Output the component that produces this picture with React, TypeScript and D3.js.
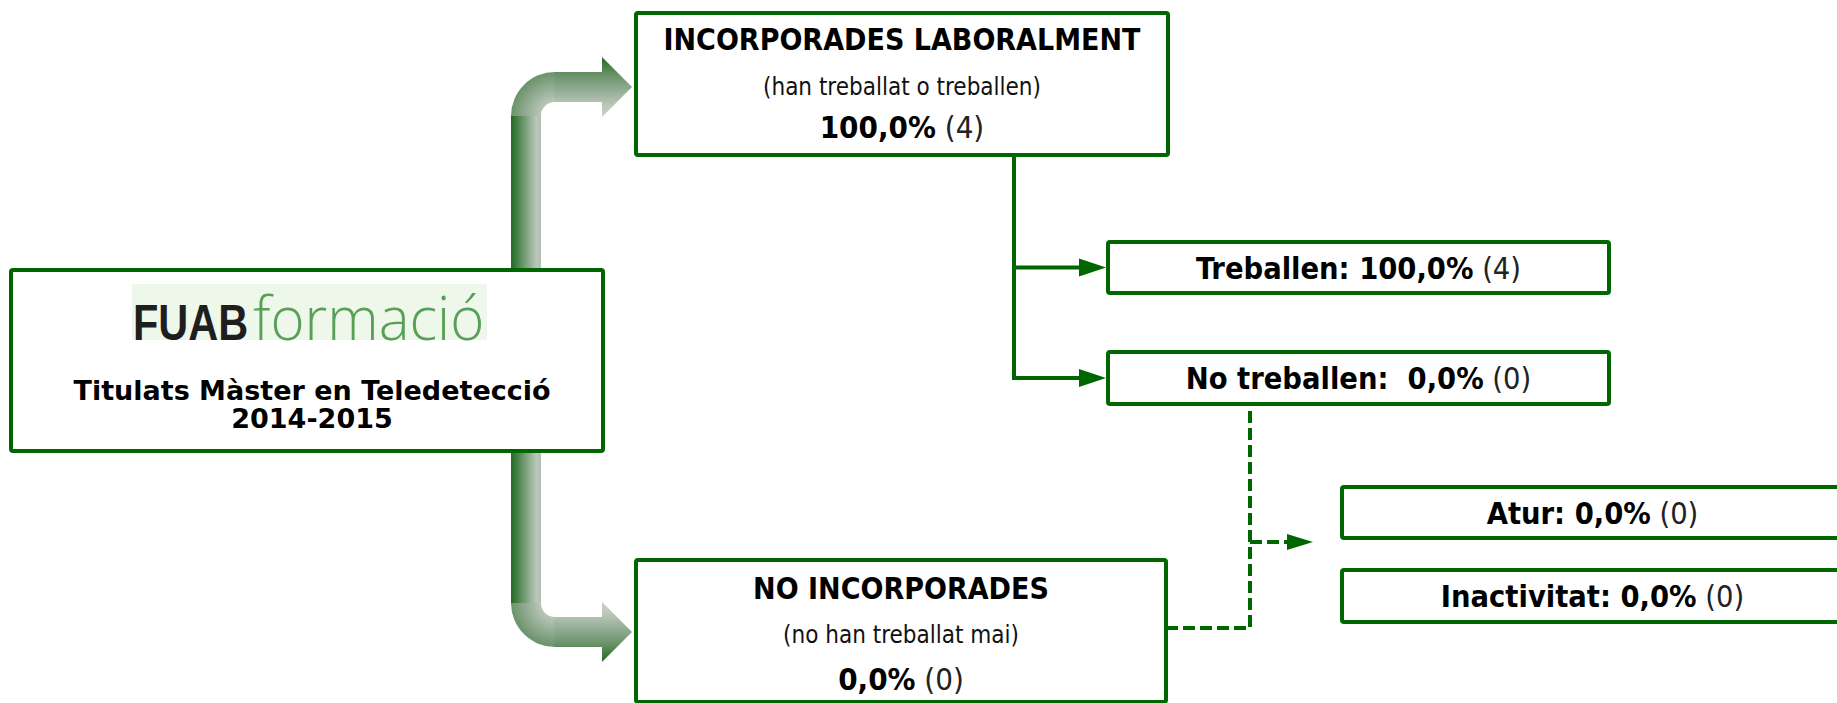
import React from "react";
import * as d3 from "d3";

// valors del diagrama
const nodeIds = ["incorporades", "noIncorporades", "treballen", "noTreballen", "atur", "inactivitat"];
const nodeLabels = ["INCORPORADES LABORALMENT", "NO INCORPORADES", "Treballen: ", "No treballen:  ", "Atur: ", "Inactivitat: "];
const nodePct = [100, 0, 100, 0, 0, 0];
const nodeCount = [4, 0, 4, 0, 0, 0];
const subLabels = ["(han treballat o treballen)", "(no han treballat mai)"];
const titleLines = ["Titulats Màster en Teledetecció", "2014-2015"];
const logoParts = ["FUAB", "formació"];

const W = 1837;
const H = 703;
const GREEN = "#006600";
const COND = "'DejaVu Sans Condensed', 'DejaVu Sans', sans-serif";

const caLocale = d3.formatLocale({ decimal: ",", thousands: ".", grouping: [3], currency: ["", "€"] });
const fmtPct = (v: number) => caLocale.format(".1f")(v) + "%";

// caixes: x, y, amplada, alçada
const boxes: Record<string, { x: number; y: number; w: number; h: number }> = {
  main: { x: 11, y: 270, w: 592, h: 181 },
  incorporades: { x: 636, y: 13, w: 532, h: 142 },
  noIncorporades: { x: 636, y: 560, w: 530, h: 142 },
  treballen: { x: 1108, y: 242, w: 501, h: 51 },
  noTreballen: { x: 1108, y: 352, w: 501, h: 52 },
  atur: { x: 1342, y: 487, w: 501, h: 51 },
  inactivitat: { x: 1342, y: 570, w: 501, h: 52 },
};

const line = d3.line<[number, number]>();

function arrowHead(tipX: number, y: number, len: number, half: number) {
  return line([[tipX - len, y - half], [tipX, y], [tipX - len, y + half]]) + "Z";
}

function BigArrows() {
  const x0 = 511, x1 = 541, R = 44, r = 14;
  const topY0 = 72, topY1 = 102;
  const botY0 = 617, botY1 = 647;
  const headX = 602, tipX = 632;
  const cTop: [number, number] = [x0 + R, topY0 + R];
  const cBot: [number, number] = [x0 + R, botY1 - R];

  const pTop = d3.path();
  pTop.moveTo(x0, cTop[1]);
  pTop.arc(cTop[0], cTop[1], R, Math.PI, 1.5 * Math.PI);
  pTop.lineTo(cTop[0], topY1);
  pTop.arc(cTop[0], cTop[1], r, 1.5 * Math.PI, Math.PI, true);
  pTop.closePath();

  const pBot = d3.path();
  pBot.moveTo(x0, cBot[1]);
  pBot.arc(cBot[0], cBot[1], R, Math.PI, 0.5 * Math.PI, true);
  pBot.lineTo(cBot[0], botY0);
  pBot.arc(cBot[0], cBot[1], r, 0.5 * Math.PI, Math.PI);
  pBot.closePath();

  const dark = "#226a22";
  const mid = "#6a926a";
  const light = "#bac7ba";

  return (
    <g>
      <defs>
        <linearGradient id="gShaft" gradientUnits="userSpaceOnUse" x1={x0} y1={0} x2={x1} y2={0}>
          <stop offset="0" stopColor={dark} />
          <stop offset="0.85" stopColor={light} />
          <stop offset="1" stopColor="#b0bfb0" />
        </linearGradient>
        <radialGradient id="gCornerTop" gradientUnits="userSpaceOnUse" cx={cTop[0]} cy={cTop[1]} r={R}>
          <stop offset={r / R} stopColor={light} />
          <stop offset="1" stopColor={mid} />
        </radialGradient>
        <radialGradient id="gCornerBot" gradientUnits="userSpaceOnUse" cx={cBot[0]} cy={cBot[1]} r={R}>
          <stop offset={r / R} stopColor={light} />
          <stop offset="1" stopColor={mid} />
        </radialGradient>
        <linearGradient id="gArmTop" gradientUnits="userSpaceOnUse" x1={0} y1={57} x2={0} y2={117}>
          <stop offset="0" stopColor={dark} />
          <stop offset="0.3" stopColor={mid} />
          <stop offset="0.8" stopColor={light} />
          <stop offset="1" stopColor="#c8d2c8" />
        </linearGradient>
        <linearGradient id="gArmBot" gradientUnits="userSpaceOnUse" x1={0} y1={662} x2={0} y2={602}>
          <stop offset="0" stopColor={dark} />
          <stop offset="0.3" stopColor={mid} />
          <stop offset="0.8" stopColor={light} />
          <stop offset="1" stopColor="#c8d2c8" />
        </linearGradient>
      </defs>
      <rect x={x0} y={cTop[1] - 0.5} width={x1 - x0} height={cBot[1] - cTop[1] + 1} fill="url(#gShaft)" />
      <path d={pTop.toString()} fill="url(#gCornerTop)" />
      <path d={pBot.toString()} fill="url(#gCornerBot)" />
      <rect x={cTop[0] - 0.5} y={topY0} width={headX - cTop[0] + 1} height={topY1 - topY0} fill="url(#gArmTop)" />
      <rect x={cBot[0] - 0.5} y={botY0} width={headX - cBot[0] + 1} height={botY1 - botY0} fill="url(#gArmBot)" />
      <path d={arrowHead(tipX, (topY0 + topY1) / 2, tipX - headX, 30)} fill="url(#gArmTop)" />
      <path d={arrowHead(tipX, (botY0 + botY1) / 2, tipX - headX, 30)} fill="url(#gArmBot)" />
    </g>
  );
}

function Box({ id }: { id: string }) {
  const b = boxes[id];
  return (
    <rect x={b.x} y={b.y} width={b.w} height={b.h} rx={2} fill="#fff" stroke={GREEN} strokeWidth={4} />
  );
}

function ValueText({ i, x, y, size }: { i: number; x: number; y: number; size: number }) {
  return (
    <text x={x} y={y} textAnchor="middle" fontFamily={COND} fontSize={size} fill="#000" style={{ whiteSpace: "pre" }}>
      <tspan fontWeight="bold">{nodeLabels[i] + fmtPct(nodePct[i])}</tspan>
      <tspan fill="#222">{" (" + nodeCount[i] + ")"}</tspan>
    </text>
  );
}

export default function App() {
  const iInc = nodeIds.indexOf("incorporades");
  const iNo = nodeIds.indexOf("noIncorporades");
  const bInc = boxes.incorporades;
  const bNo = boxes.noIncorporades;
  const cx = (id: string) => boxes[id].x + boxes[id].w / 2;

  // connectors
  const trunkX = 1014;
  const yT = boxes.treballen.y + boxes.treballen.h / 2;
  const yN = boxes.noTreballen.y + boxes.noTreballen.h / 2;
  const dashX = 1250;
  const dashY = 628;
  const yA = 542;

  return (
    <svg width={W} height={H} style={{ position: "absolute", left: 0, top: 0, background: "#fff" }}>
      <BigArrows />

      {/* caixa principal */}
      <Box id="main" />
      <rect x={132} y={284} width={355} height={56} fill="#eef8ea" />
      <g transform="translate(133,340) scale(0.83,1)">
        <text x={0} y={0} fontFamily="'Liberation Sans', Arial, sans-serif" fontWeight="bold" fontSize={50}
          fill="#1e1e1e">{logoParts[0]}</text>
      </g>
      <g transform="translate(253,340) scale(0.97,1)">
        <text x={0} y={0} fontFamily="'Open Sans', 'Liberation Sans', sans-serif" fontWeight={300} fontSize={60}
          fill="#5a9f58">{logoParts[1]}</text>
      </g>
      {titleLines.map((t, k) => (
        <text key={k} x={312} y={400 + k * 28} textAnchor="middle" fontFamily="'DejaVu Sans', Verdana, sans-serif"
          fontWeight="bold" fontSize={27} fill="#000">{t}</text>
      ))}

      {/* connectors sòlids */}
      <path d={line([[trunkX, bInc.y + bInc.h], [trunkX, yN], [1080, yN]])!} fill="none" stroke={GREEN} strokeWidth={4} />
      <path d={line([[trunkX, yT], [1080, yT]])!} fill="none" stroke={GREEN} strokeWidth={4} />
      <path d={arrowHead(1106, yT, 27, 9)} fill={GREEN} />
      <path d={arrowHead(1106, yN, 27, 9)} fill={GREEN} />

      {/* connectors discontinus */}
      <path d={line([[bNo.x + bNo.w, dashY], [dashX, dashY], [dashX, boxes.noTreballen.y + boxes.noTreballen.h]])!}
        fill="none" stroke={GREEN} strokeWidth={4} strokeDasharray="12 5" />
      <path d={line([[dashX, yA], [1288, yA]])!} fill="none" stroke={GREEN} strokeWidth={4} strokeDasharray="12 5" />
      <path d={arrowHead(1313, yA, 26, 8)} fill={GREEN} />

      {/* caixes */}
      {nodeIds.map((id) => <Box key={id} id={id} />)}

      <text x={cx("incorporades")} y={50} textAnchor="middle" fontFamily={COND} fontWeight="bold" fontSize={30}>{nodeLabels[iInc]}</text>
      <text x={cx("incorporades")} y={95} textAnchor="middle" fontFamily={COND} fontSize={24} fill="#111">{subLabels[0]}</text>
      <text x={cx("incorporades")} y={138} textAnchor="middle" fontFamily={COND} fontSize={31}>
        <tspan fontWeight="bold">{fmtPct(nodePct[iInc])}</tspan>
        <tspan fill="#222">{" (" + nodeCount[iInc] + ")"}</tspan>
      </text>

      <text x={cx("noIncorporades")} y={599} textAnchor="middle" fontFamily={COND} fontWeight="bold" fontSize={30}>{nodeLabels[iNo]}</text>
      <text x={cx("noIncorporades")} y={643} textAnchor="middle" fontFamily={COND} fontSize={24} fill="#111">{subLabels[1]}</text>
      <text x={cx("noIncorporades")} y={690} textAnchor="middle" fontFamily={COND} fontSize={31}>
        <tspan fontWeight="bold">{fmtPct(nodePct[iNo])}</tspan>
        <tspan fill="#222">{" (" + nodeCount[iNo] + ")"}</tspan>
      </text>

      {["treballen", "noTreballen", "atur", "inactivitat"].map((id) => {
        const b = boxes[id];
        const i = nodeIds.indexOf(id);
        return <ValueText key={id} i={i} x={b.x + b.w / 2} y={b.y + b.h / 2 + 11} size={30.5} />;
      })}
    </svg>
  );
}
